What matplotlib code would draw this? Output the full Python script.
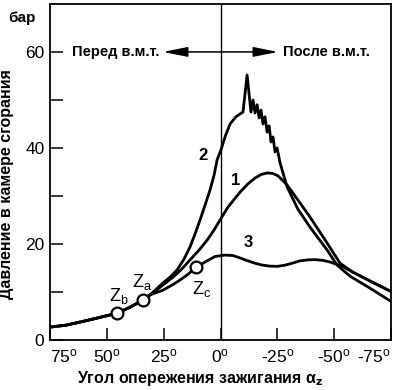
import matplotlib
matplotlib.use('Agg')
import matplotlib.pyplot as plt

plt.rcParams['font.family'] = ['Liberation Sans', 'DejaVu Sans']
plt.rcParams['mathtext.default'] = 'regular'

# угол опережения (градусы до в.м.т. положительные) и давление, бар
common_x = [75, 68, 61.8, 55, 45.5, 40, 34.1, 31.0]
common_p = [2.7, 3.1, 3.75, 4.5, 5.6, 6.8, 8.3, 9.4]

curve1_x = [26.6, 20.9, 17.0, 13.4, 9.5, 5.9, 3.0, 0.2, -3.3, -8.6, -12.0, -15.2,
            -18.0, -20.5, -23.0, -25.3, -29.3, -34.0, -39.4, -46.9, -52.6,
            -58.0, -65.8, -75.5]
curve1_p = [11.0, 13.1, 14.8, 16.7, 18.7, 20.8, 22.8, 25.0, 27.7, 30.8, 32.5, 33.75,
            34.5, 34.8, 34.7, 34.2, 32.3, 29.2, 25.6, 20.2, 16.0,
            14.2, 12.3, 10.0]

curve2_x = [25.3, 22.2, 19.1, 16.0, 13.4, 11.2, 9.0, 6.8, 4.6, 2.8, 1.5, -0.2,
            -2.2, -4.2, -6.8, -9.9, -11.7,
            -13.4, -14.3, -15.2, -16.1, -17.0, -17.8, -18.7, -19.6, -20.5,
            -21.4, -22.2, -23.1, -24.0, -24.9, -26.2, -29.3, -34.0, -39.4, -46.9,
            -51.3, -57.0, -65.8, -75.5]
curve2_p = [11.9, 13.1, 14.6, 16.9, 19.4, 22.1, 25.0, 28.1, 31.25, 34.4, 37.5, 39.6,
            42.6, 45.0, 46.5, 47.5, 55.2,
            47.5, 50.0, 47.3, 49.0, 46.25, 47.9, 45.0, 46.5, 43.3,
            44.6, 41.25, 42.3, 39.2, 40.0, 36.9, 31.9, 27.3, 23.5, 18.75,
            15.6, 13.3, 10.8, 7.9]

curve3_x = [25.3, 21.5, 17.8, 14.0, 10.8, 8.0, 5.9, 2.4, -2.0, -5.5, -8.6, -12.0,
            -15.2, -18.5, -21.8, -25.0, -28.4, -31.5, -35.0, -38.5, -41.6, -45.0,
            -48.2, -53.5, -58.0, -65.8, -75.5]
curve3_p = [10.4, 11.4, 12.5, 13.8, 15.2, 15.9, 16.5, 17.4, 17.7, 17.6, 17.1, 16.5,
            16.0, 15.6, 15.4, 15.35, 15.6, 16.0, 16.5, 16.7, 16.75, 16.6,
            16.25, 15.4, 14.2, 12.3, 10.0]

# точки зажигания
ign_names = ['$Z_b$', '$Z_a$', '$Z_c$']
ign_x = [45.5, 34.1, 10.8]
ign_p = [5.6, 8.3, 15.2]

x_ticks = [75, 50, 25, 0, -25, -50, -75]
x_labels = ['75$^o$', '50$^o$', '25$^o$', '0$^o$', '-25$^o$', '-50$^o$', '-75$^o$']
y_ticks = [0, 10, 20, 30, 40, 50, 60]
y_labels = ['0', '', '20', '', '40', '', '60']

fig = plt.figure(figsize=(4.0, 3.9), dpi=100)
ax = fig.add_axes([0.125, 0.128, 0.8525, 0.862])

lw = 2.0
for cx, cp in [(curve1_x, curve1_p), (curve2_x, curve2_p), (curve3_x, curve3_p)]:
    ax.plot(common_x + cx, common_p + cp, color='black', lw=lw, solid_joinstyle='round')

ax.plot(ign_x, ign_p, 'o', ms=8.5, mfc='white', mec='black', mew=1.6, zorder=5)
ax.text(44.6, 7.0, ign_names[0], fontsize=13, ha='center', va='bottom')
ax.text(34.3, 10.0, ign_names[1], fontsize=13, ha='center', va='bottom')
ax.text(8.3, 12.8, ign_names[2], fontsize=13, ha='center', va='top')

ax.text(7.5, 38.5, '2', fontsize=12, fontweight='bold', ha='center', va='center')
ax.text(-6.5, 33.3, '1', fontsize=12, fontweight='bold', ha='center', va='center')
ax.text(-12.0, 20.4, '3', fontsize=12, fontweight='bold', ha='center', va='center')

ax.axvline(0, color='black', lw=1.0)
ax.annotate('', xy=(25.3, 60), xytext=(-25.3, 60),
            arrowprops=dict(arrowstyle='<|-|>,head_length=1.5,head_width=0.3',
                            color='black', lw=1.1, shrinkA=0, shrinkB=0,
                            mutation_scale=10))
ax.text(26.8, 60, 'Перед в.м.т.', fontsize=10.5, fontweight='bold', ha='right', va='center')
ax.text(-27.5, 60, 'После в.м.т.', fontsize=10.5, fontweight='bold', ha='left', va='center')

ax.set_xlim(75, -75)
ax.set_ylim(0, 70)
ax.set_xticks(x_ticks)
ax.set_xticklabels(x_labels)
ax.set_yticks(y_ticks)
ax.set_yticklabels(y_labels)
ax.tick_params(direction='in', length=9, width=1.1, labelsize=12.5, pad=4)
ax.tick_params(axis='x', pad=5)
xt = ax.get_xticklabels()
xt[0].set_ha('left')
xt[-1].set_ha('right')
for s in ax.spines.values():
    s.set_linewidth(1.3)

ax.set_xlabel(r'Угол опережения зажигания α$_\mathbf{z}$', fontsize=11.5, fontweight='bold', labelpad=4)
ax.xaxis.set_label_coords(0.44, -0.085)
ax.set_ylabel('Давление в камере сгорания', fontsize=11.5, fontweight='bold')
ax.yaxis.set_label_coords(-0.105, 0.464)
fig.text(0.02, 0.955, 'бар', fontsize=11, fontweight='bold', ha='left', va='center')

fig.savefig('out.png', dpi=100)
